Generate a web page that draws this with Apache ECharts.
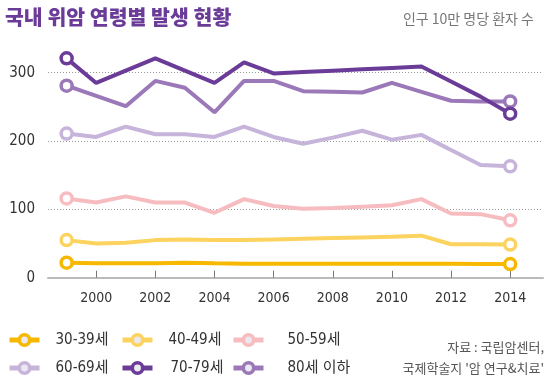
<!DOCTYPE html>
<html><head><meta charset="utf-8">
<script src="https://cdn.jsdelivr.net/npm/echarts@6/dist/echarts.min.js"></script>
<style>html,body{margin:0;padding:0;background:#fff}#c{width:545px;height:378px}</style>
</head><body><div id="c"></div>
<script>
const years = [1999,2000,2001,2002,2003,2004,2005,2006,2007,2008,2009,2010,2011,2012,2013,2014];
const seriesNames = ['30-39세','40-49세','50-59세','60-69세','70-79세','80세 이하'];
const age30 = [22,21,21,21,22,21,20.5,20.5,20.5,20.5,20.5,20.5,20.5,20.5,20,20];
const age40 = [55,50,51,55,56,55,55,56,57,58,59,60,61.5,49,49,48.5];
const age50 = [116,110,119,110,110,95,115,105,101,102,104,106,115,94,93,84];
const age60 = [211,206,221,210,210,206,221,206,196,205,215,202,209,187,165,163];
const age70 = [321,285,303,321,303,285,315,299,301,303,305,307,309,287,265,240];
const age80 = [281,266,251,288,278,242,288,288,273,272,271,285,272,259,258,258];
const yTicks = [0,100,200,300];
const xTicks = [2000,2002,2004,2006,2008,2010,2012,2014];
const colors = ['#f6b800','#fdd35f','#f6bcc0','#c6b4da','#6a3c98','#9b78b8'];
const allValues = [age30,age40,age50,age60,age70,age80];

const chart = echarts.init(document.getElementById('c'), null, {renderer:'canvas'});
const font = "'DejaVu Sans Condensed','Liberation Sans Narrow','Noto Sans CJK KR',sans-serif";
const series = allValues.map((vals,i)=>({
  name: seriesNames[i],
  type:'line',
  data: vals.map((v,j)=>[years[j],v]),
  clip:false,
  symbol:'circle',
  symbolSize:(v,p)=> (p.dataIndex===0||p.dataIndex===vals.length-1)?11:0,
  lineStyle:{color:colors[i],width:4},
  itemStyle:{color:'#ffffff',borderColor:colors[i],borderWidth:3.5},
  emphasis:{disabled:true},
  z: 2+i,
  animation:false
}));
series[4].z = 10; series[5].z = 9;

// legend slots: [left, top, text padding]
const legendPos = [[7,331,11],[120,331,11],[231,331,19],[7,359,11],[120,359,13],[231,359,19]];
const legends = seriesNames.map((nm,k)=>({
  data:[{name:nm,itemStyle:{color:'#ebe8ef',borderColor:colors[k],borderWidth:3.5},lineStyle:{color:colors[k],width:5}}],
  left:legendPos[k][0], top:legendPos[k][1],
  itemWidth:30, itemHeight:13, padding:0,
  textStyle:{fontFamily:font,fontSize:15,lineHeight:18,color:'#333',padding:[0,0,0,legendPos[k][2]]},
  selectedMode:false
}));

chart.setOption({
  animation:false,
  title:[
    {text:'국내 위암 연령별 발생 현황',left:0,top:2,textStyle:{fontFamily:"'Noto Sans CJK KR',sans-serif",fontSize:20.5,fontWeight:900,color:'#6a3c98'}},
    {text:'인구 10만 명당 환자 수',right:6,top:7,textStyle:{fontFamily:"'Noto Sans CJK KR',sans-serif",fontSize:14,fontWeight:'normal',color:'#777'}}
  ],
  legend:legends,
  graphic:[
    {type:'text',right:1,top:341,style:{text:'자료 : 국립암센터,',font:"13px 'Noto Sans CJK KR'",fill:'#555',textAlign:'right'}},
    {type:'text',right:1,top:362,style:{text:"국제학술지 '암 연구&치료'",font:"13px 'Noto Sans CJK KR'",fill:'#555',textAlign:'right'}}
  ],
  grid:{left:48,right:2,top:72.7,bottom:100.3},
  xAxis:{
    type:'value', min:1998.37, max:2015.11,
    axisLine:{show:true,lineStyle:{color:'#bbb',width:2}},
    axisTick:{show:true,inside:true,length:7,lineStyle:{color:'#777',width:1},customValues:xTicks},
    axisLabel:{customValues:xTicks,formatter:v=>String(v),fontFamily:font,fontSize:14,color:'#333',margin:14},
    splitLine:{show:false}
  },
  yAxis:{
    type:'value', min:0, max:300, interval:100,
    axisLine:{show:false}, axisTick:{show:false},
    axisLabel:{formatter:v=>String(v),fontFamily:font,fontSize:15,color:'#333',margin:13},
    splitLine:{show:true,lineStyle:{color:'#999',type:[1,2],width:1}}
  },
  series:series
});
</script></body></html>
